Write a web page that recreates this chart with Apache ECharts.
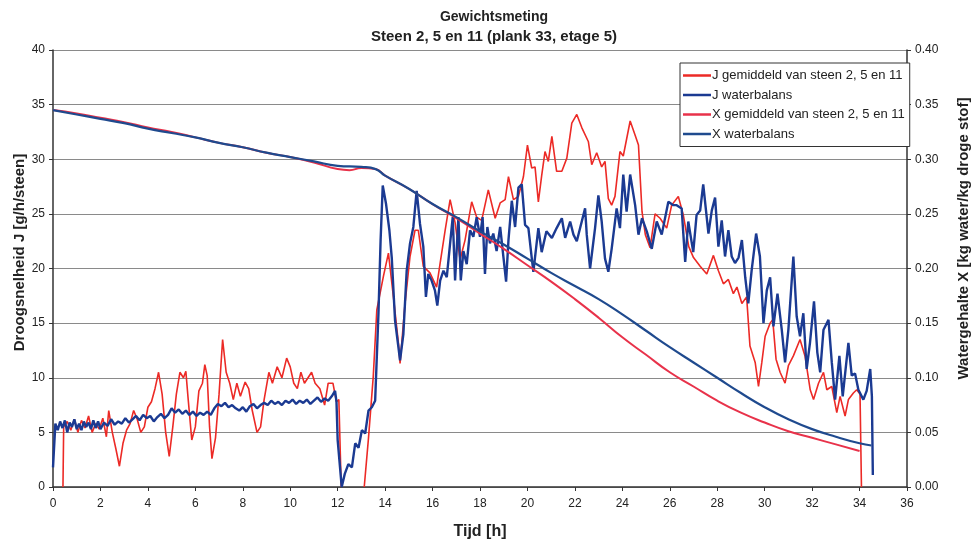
<!DOCTYPE html>
<html>
<head>
<meta charset="utf-8">
<script src="https://cdn.jsdelivr.net/npm/echarts@6/dist/echarts.min.js"></script>
<style>
  html, body { margin: 0; padding: 0; background: #fff; }
  #chart { width: 976px; height: 549px; }
</style>
</head>
<body>
<div id="chart"></div>
<script>
// Drying-rate and moisture measurements, time in hours
const titleText = 'Gewichtsmeting';
const subtitleText = 'Steen 2, 5 en 11 (plank 33, etage 5)';
const seriesNames = [
  'J gemiddeld van steen 2, 5 en 11',
  'J waterbalans',
  'X gemiddeld van steen 2, 5 en 11',
  'X waterbalans'
];
const xTicks = { min: 0, max: 36, interval: 2 };
const jTicks = { min: 0, max: 40, interval: 5 };
const xContentTicks = { min: 0, max: 0.4, interval: 0.05 };

// J averaged over bricks 2, 5 and 11 [g/h/steen] as [tijd, J]; '-' marks a gap
const jGemiddeld = [
  [0.42,0],[0.45,5.5],[0.6,6],[0.75,5.2],[0.9,6.2],[1.05,5.0],[1.2,6.1],[1.35,5.4],[1.5,6.5],[1.65,5.0],
  [1.8,5.8],[1.95,5.3],[2.1,6.3],[2.25,4.6],[2.35,7.0],[2.5,5.0],[2.65,3.5],[2.8,1.9],[2.95,4.0],[3.1,5.2],
  [3.25,5.8],[3.4,7.0],[3.55,6.2],[3.7,5.0],[3.85,5.5],[4.0,7.3],[4.15,7.8],[4.3,9.0],[4.45,10.5],[4.6,8.5],
  [4.75,5.0],[4.9,2.8],[5.05,5.5],[5.2,8.5],[5.35,10.5],[5.5,10.0],[5.6,10.6],[5.7,8.0],[5.85,4.3],[6.0,5.5],
  [6.15,8.8],[6.3,9.5],[6.4,11.2],[6.5,10.2],[6.6,5.5],[6.7,2.6],[6.85,4.5],[7.0,8.5],[7.15,13.5],[7.3,10.5],
  [7.45,9.5],[7.6,8.0],[7.75,9.5],[7.9,8.3],[8.1,9.6],[8.25,9.0],[8.4,7.0],[8.6,5.0],[8.75,5.5],[8.9,8.0],
  [9.1,10.5],[9.25,9.5],[9.45,11.0],[9.65,10.0],[9.85,11.8],[10.0,11.0],[10.15,9.5],[10.3,9.0],[10.45,10.5],[10.6,9.5],
  [10.75,10.0],[10.9,10.5],[11.05,9.5],[11.25,9.0],[11.45,7.5],[11.6,9.5],[11.8,9.5],[11.95,7.8],[12.05,8.0],[12.15,0],
  [12.6,'-'],
  [13.12,0],[13.3,4.5],[13.5,10.1],[13.65,16.2],[13.93,19.3],[14.14,21.4],[14.35,17.4],[14.56,13.2],[14.63,11.3],[14.84,16.8],
  [15.05,21.1],[15.26,23.5],[15.4,23.5],[15.61,20.2],[15.89,19.6],[16.17,18.3],[16.32,20.5],[16.53,23.5],[16.74,26.3],[16.95,24.2],
  [17.16,20.8],[17.37,22.6],[17.65,26.1],[17.86,24.7],[18.07,24.4],[18.35,27.2],[18.64,24.6],[18.85,26.0],[19.06,26.3],[19.2,28.4],
  [19.41,26.3],[19.62,26.6],[19.83,28.4],[20.0,31.3],[20.18,29.2],[20.32,29.3],[20.46,26.1],[20.6,28.5],[20.74,30.7],[20.88,29.8],
  [21.03,32.1],[21.23,28.9],[21.45,28.9],[21.66,30.1],[21.87,33.3],[22.08,34.1],[22.29,32.9],[22.57,31.6],[22.71,29.5],[22.92,30.6],
  [23.13,29.3],[23.27,29.8],[23.41,26.4],[23.55,25.8],[23.69,26.6],[23.9,30.7],[24.04,30.3],[24.33,33.5],[24.54,32.2],[24.68,31.3],
  [24.83,25.2],[24.97,23.1],[25.17,21.9],[25.38,25.0],[25.59,24.6],[25.87,23.7],[26.08,25.8],[26.36,26.6],[26.57,24.9],[26.8,22.0],
  [27.0,21.0],[27.28,20.2],[27.56,19.5],[27.84,21.2],[28.05,19.8],[28.26,18.6],[28.47,19.0],[28.68,17.7],[28.83,18.3],[29.04,16.8],
  [29.24,17.4],[29.38,12.9],[29.6,11.4],[29.74,9.2],[29.88,11.4],[30.02,13.8],[30.23,15.0],[30.34,15.3],[30.48,11.7],[30.65,10.5],
  [30.86,9.5],[31.0,11.1],[31.21,12.0],[31.49,13.5],[31.7,12.0],[31.92,8.9],[32.06,8.0],[32.27,9.5],[32.48,10.5],[32.62,8.9],
  [32.83,9.2],[33.04,6.8],[33.18,8.3],[33.39,6.5],[33.53,8.0],[33.74,8.6],[33.88,8.9],[34.02,8.5],[34.08,0]
];

// J from the water balance [g/h/steen] as [tijd, J]
const jWaterbalans = [
  [0.0,1.8],[0.1,5.8],[0.2,5.2],[0.3,6.0],[0.4,5.4],[0.5,6.1],[0.6,5.0],[0.7,5.9],[0.8,5.5],[0.9,6.2],
  [1.0,5.3],[1.1,5.8],[1.2,5.2],[1.3,6.0],[1.4,5.5],[1.5,5.9],[1.6,5.3],[1.7,6.1],[1.8,5.4],[1.9,6.0],
  [2.0,5.3],[2.15,5.9],[2.3,5.6],[2.45,6.2],[2.6,5.7],[2.75,6.0],[2.9,5.8],[3.05,6.3],[3.2,5.9],[3.35,6.2],
  [3.5,6.5],[3.65,6.1],[3.8,6.6],[3.95,6.3],[4.1,6.5],[4.25,6.0],[4.4,6.4],[4.55,6.7],[4.7,6.3],[4.85,6.6],
  [5.0,7.2],[5.15,6.8],[5.3,7.1],[5.45,6.7],[5.6,7.0],[5.75,6.6],[5.9,6.9],[6.05,6.5],[6.2,6.8],[6.35,6.6],
  [6.5,6.9],[6.65,6.6],[6.8,7.2],[6.95,7.6],[7.1,7.4],[7.25,7.7],[7.4,7.3],[7.55,7.5],[7.7,7.2],[7.85,7.0],
  [8.0,7.3],[8.15,6.9],[8.3,7.4],[8.45,7.6],[8.6,7.2],[8.75,7.5],[8.9,7.7],[9.05,7.5],[9.2,7.9],[9.35,7.6],
  [9.5,7.8],[9.65,7.5],[9.8,7.9],[9.95,7.7],[10.1,8.0],[10.25,7.6],[10.4,7.9],[10.55,7.7],[10.7,8.0],[10.85,7.6],
  [11.0,7.9],[11.15,8.2],[11.3,7.8],[11.45,8.1],[11.6,7.9],[11.75,8.3],[11.89,8.8],[11.95,7.8],[12.0,4.3],[12.17,0],
  [12.3,1.2],[12.45,2.1],[12.6,1.8],[12.74,4.0],[12.88,3.6],[13.02,5.2],[13.16,4.9],[13.3,7.0],[13.44,7.3],[13.58,7.9],
  [13.72,15.9],[13.81,22.6],[13.9,27.6],[14.04,25.9],[14.18,23.5],[14.28,21.0],[14.42,15.2],[14.56,12.8],[14.63,11.6],[14.77,14.0],
  [14.91,19.8],[15.05,22.3],[15.19,23.8],[15.33,27.1],[15.47,24.1],[15.61,22.0],[15.72,17.4],[15.82,19.5],[15.96,18.9],[16.1,18.0],
  [16.2,16.6],[16.32,18.9],[16.46,19.8],[16.6,19.2],[16.74,22.3],[16.85,24.7],[16.95,18.9],[17.09,24.7],[17.19,18.9],[17.3,21.6],
  [17.44,20.4],[17.58,23.5],[17.72,22.9],[17.86,24.7],[18.0,22.9],[18.11,24.7],[18.21,19.5],[18.31,23.8],[18.42,22.3],[18.56,23.2],
  [18.7,21.6],[18.85,23.8],[18.99,21.0],[19.1,18.8],[19.2,22.6],[19.34,26.2],[19.48,23.8],[19.62,27.4],[19.76,27.7],[19.9,24.0],
  [20.04,23.7],[20.18,21.0],[20.25,19.7],[20.32,19.8],[20.46,23.7],[20.6,21.5],[20.8,23.4],[21.03,22.8],[21.23,23.7],[21.45,24.6],
  [21.59,22.8],[21.8,24.3],[21.94,23.1],[22.08,22.5],[22.22,23.7],[22.43,25.5],[22.5,23.1],[22.64,20.0],[22.85,23.7],[22.99,26.7],
  [23.13,24.3],[23.27,20.9],[23.41,19.7],[23.55,21.8],[23.76,25.5],[23.9,23.7],[24.04,28.6],[24.18,25.2],[24.33,28.6],[24.54,25.8],
  [24.68,23.1],[24.83,24.6],[25.03,23.4],[25.24,21.8],[25.45,24.3],[25.66,23.1],[25.94,26.1],[26.15,25.8],[26.29,25.8],[26.5,25.5],
  [26.65,20.6],[26.78,24.3],[26.99,21.5],[27.13,24.9],[27.28,25.3],[27.41,27.7],[27.49,27.7],[27.63,23.2],[27.77,25.3],[27.91,26.5],
  [28.05,22.0],[28.19,24.4],[28.33,21.1],[28.47,23.5],[28.61,21.1],[28.75,20.5],[28.9,21.0],[29.04,22.6],[29.18,19.2],[29.31,16.8],
  [29.45,19.8],[29.64,23.2],[29.8,21.1],[29.95,15.0],[30.09,18.0],[30.23,19.2],[30.37,14.7],[30.54,17.7],[30.72,14.4],[30.86,11.4],
  [31.0,14.4],[31.21,21.1],[31.35,15.6],[31.49,13.8],[31.63,15.9],[31.77,10.8],[31.91,13.2],[32.08,17.0],[32.22,12.3],[32.34,10.5],
  [32.48,14.4],[32.69,15.3],[32.83,11.4],[32.97,8.0],[33.15,12.0],[33.29,8.3],[33.53,13.2],[33.67,10.2],[33.81,10.4],[33.95,8.9],
  [34.16,8.0],[34.3,8.8],[34.45,10.8],[34.52,8.3],[34.56,1.1]
];

// Moisture content averaged over bricks 2, 5 and 11 [kg water/kg droge stof]
const xGemiddeld = [
  [0,0.345],[1,0.342],[2,0.338],[3,0.334],[4,0.329],[5,0.325],[6,0.320],[7,0.315],[8,0.311],[9,0.306],
  [10,0.302],[11,0.297],[12,0.291],[12.5,0.290],[13,0.292],[13.6,0.291],[14,0.285],[15,0.273],[16,0.259],[17,0.246],
  [18,0.232],[19,0.218],[20,0.203],[21,0.188],[22,0.172],[23,0.155],[24,0.137],[25,0.121],[26,0.105],[27,0.092],
  [28,0.079],[29,0.068],[30,0.059],[31,0.051],[32,0.045],[33,0.039],[34,0.033]
];

// Moisture content from the water balance [kg water/kg droge stof]
const xWaterbalans = [
  [0,0.345],[1,0.341],[2,0.337],[3,0.333],[4,0.328],[5,0.324],[6,0.320],[7,0.315],[8,0.311],[9,0.306],
  [10,0.302],[11,0.298],[12,0.294],[13,0.293],[13.6,0.291],[14,0.285],[15,0.273],[16,0.259],[17,0.247],[18,0.234],
  [19,0.222],[20,0.209],[21,0.196],[22,0.184],[23,0.172],[24,0.158],[25,0.143],[26,0.128],[27,0.114],[28,0.100],
  [29,0.086],[30,0.073],[31,0.062],[32,0.053],[33,0.046],[34,0.040],[34.5,0.038]
];

const FONT = '"Liberation Sans", Arial, sans-serif';
const RED = '#ec2a26';
const RED_X = '#e8324a';
const NAVY = '#1b3a92';
const BLUE_X = '#1f4a8e';

const chart = echarts.init(document.getElementById('chart'), null, { renderer: 'canvas' });

function lineSeries(name, data, color, width, yIndex, smooth) {
  return {
    name: name,
    type: 'line',
    yAxisIndex: yIndex,
    data: data,
    symbol: 'none',
    smooth: smooth,
    connectNulls: false,
    lineStyle: { color: color, width: width },
    itemStyle: { color: color },
    emphasis: { disabled: true },
    animation: false
  };
}

chart.setOption({
  backgroundColor: '#fff',
  animation: false,
  title: [
    { text: titleText, left: 489, top: 5, textAlign: 'center',
      textStyle: { fontFamily: FONT, fontSize: 14, fontWeight: 'bold', color: '#222' } },
    { text: subtitleText, left: 489, top: 24, textAlign: 'center',
      textStyle: { fontFamily: FONT, fontSize: 15, fontWeight: 'bold', color: '#222' } }
  ],
  legend: {
    orient: 'vertical',
    left: 680,
    top: 63,
    data: seriesNames,
    icon: 'rect',
    itemWidth: 28,
    itemHeight: 2.5,
    itemGap: 6.5,
    padding: [6, 5, 6, 3],
    backgroundColor: '#fff',
    borderColor: '#333',
    borderWidth: 1,
    textStyle: { fontFamily: FONT, fontSize: 13, color: '#222', padding: [0, 0, 0, -4] }
  },
  grid: { left: 53, right: 69, top: 50, bottom: 62, containLabel: false, outerBoundsMode: 'none' },
  xAxis: {
    type: 'value',
    min: xTicks.min, max: xTicks.max, interval: xTicks.interval,
    name: 'Tijd [h]',
    nameLocation: 'middle',
    nameGap: 37,
    nameMoveOverlap: false,
    nameTextStyle: { fontFamily: FONT, fontSize: 16, fontWeight: 'bold', color: '#222' },
    axisLine: { lineStyle: { color: '#333', width: 1.5 } },
    axisTick: { show: true, length: 4, lineStyle: { color: '#333' } },
    axisLabel: { fontFamily: FONT, fontSize: 12, color: '#222', margin: 11 },
    splitLine: { show: false }
  },
  yAxis: [
    {
      type: 'value',
      position: 'left',
      min: jTicks.min, max: jTicks.max, interval: jTicks.interval,
      name: 'Droogsnelheid J [g/h/steen]',
      nameLocation: 'middle',
      nameRotate: 90,
      nameGap: 26,
      nameMoveOverlap: false,
      nameTextStyle: { fontFamily: FONT, fontSize: 15, fontWeight: 'bold', color: '#222', padding: [0, 0, 0, 32] },
      axisLine: { show: true, lineStyle: { color: '#333', width: 1.5 } },
      axisTick: { show: true, length: 4, lineStyle: { color: '#333' } },
      axisLabel: { fontFamily: FONT, fontSize: 12, color: '#222', margin: 8 },
      splitLine: { show: true, lineStyle: { color: '#8a8a8a', width: 1.2 } }
    },
    {
      type: 'value',
      position: 'right',
      min: xContentTicks.min, max: xContentTicks.max, interval: xContentTicks.interval,
      name: 'Watergehalte X [kg water/kg droge stof]',
      nameLocation: 'middle',
      nameRotate: 90,
      nameGap: 49,
      nameMoveOverlap: false,
      nameTextStyle: { fontFamily: FONT, fontSize: 15, fontWeight: 'bold', color: '#222', padding: [0, 0, 0, 60] },
      axisLine: { show: true, lineStyle: { color: '#333', width: 1.5 } },
      axisTick: { show: true, length: 4, lineStyle: { color: '#333' } },
      axisLabel: { fontFamily: FONT, fontSize: 12, color: '#222', margin: 8,
        formatter: v => v.toFixed(2) },
      splitLine: { show: false }
    }
  ],
  series: [
    lineSeries(seriesNames[0], jGemiddeld, RED, 1.6, 0, false),
    lineSeries(seriesNames[1], jWaterbalans, NAVY, 2.4, 0, false),
    lineSeries(seriesNames[2], xGemiddeld, RED_X, 2, 1, true),
    lineSeries(seriesNames[3], xWaterbalans, BLUE_X, 2.2, 1, true)
  ]
});
</script>
</body>
</html>
